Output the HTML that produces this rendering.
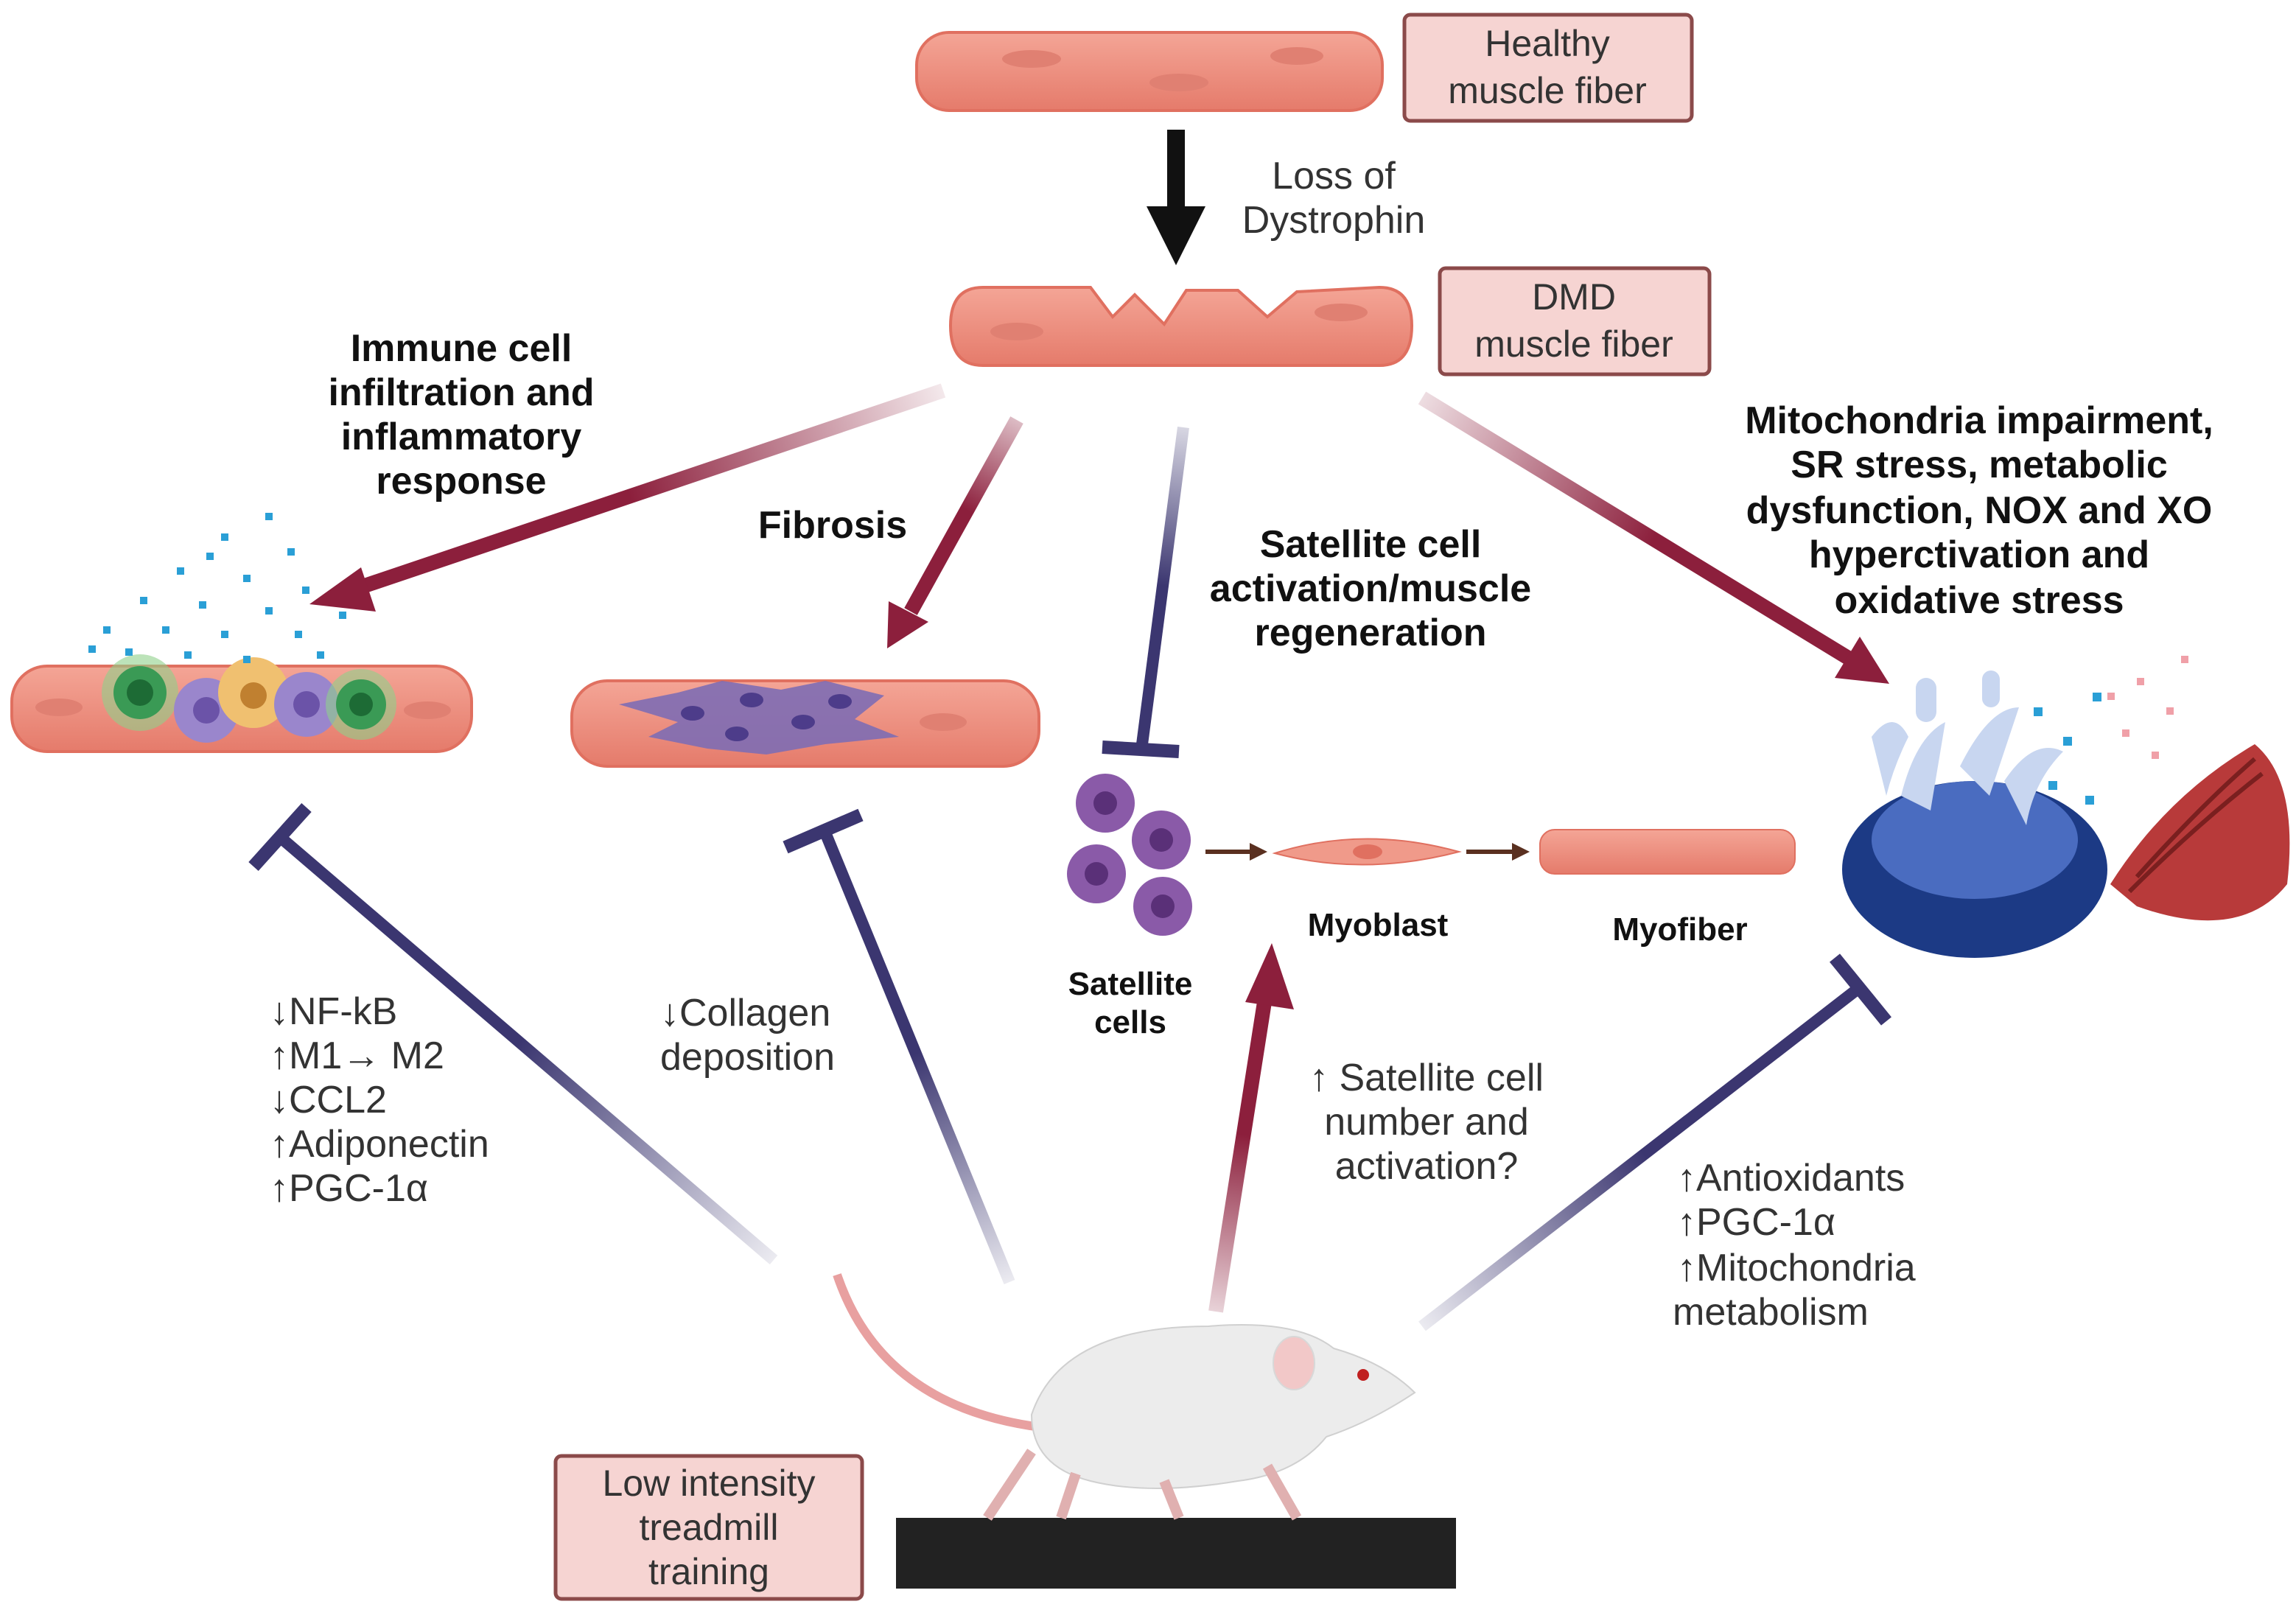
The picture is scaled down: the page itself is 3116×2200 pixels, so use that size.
<!DOCTYPE html>
<html><head><meta charset="utf-8"><style>
html,body{margin:0;padding:0;background:#fff}
svg{display:block}
text{font-family:"Liberation Sans",sans-serif}
</style></head><body>
<svg width="3116" height="2200" viewBox="0 0 1558 1100" xmlns="http://www.w3.org/2000/svg">
<defs>
<linearGradient id="fib" x1="0" y1="0" x2="0" y2="1"><stop offset="0" stop-color="#f4a596"/><stop offset="1" stop-color="#e57b6b"/></linearGradient>
<linearGradient id="g1" x1="640" y1="265" x2="215" y2="410" gradientUnits="userSpaceOnUse"><stop offset="0" stop-color="#8c1f3c" stop-opacity="0.1"/><stop offset="0.5" stop-color="#8c1f3c"/></linearGradient>
<linearGradient id="g2" x1="690" y1="285" x2="605" y2="438" gradientUnits="userSpaceOnUse"><stop offset="0" stop-color="#8c1f3c" stop-opacity="0.3"/><stop offset="0.4" stop-color="#8c1f3c"/></linearGradient>
<linearGradient id="g3" x1="803" y1="290" x2="775" y2="505" gradientUnits="userSpaceOnUse"><stop offset="0" stop-color="#3b3670" stop-opacity="0.2"/><stop offset="0.5" stop-color="#3b3670"/></linearGradient>
<linearGradient id="g4" x1="965" y1="270" x2="1280" y2="462" gradientUnits="userSpaceOnUse"><stop offset="0" stop-color="#8c1f3c" stop-opacity="0.15"/><stop offset="0.5" stop-color="#8c1f3c"/></linearGradient>
<linearGradient id="g5" x1="525" y1="855" x2="180" y2="560" gradientUnits="userSpaceOnUse"><stop offset="0" stop-color="#3b3670" stop-opacity="0.1"/><stop offset="0.5" stop-color="#3b3670"/></linearGradient>
<linearGradient id="g6" x1="685" y1="870" x2="558" y2="560" gradientUnits="userSpaceOnUse"><stop offset="0" stop-color="#3b3670" stop-opacity="0.1"/><stop offset="0.5" stop-color="#3b3670"/></linearGradient>
<linearGradient id="g7" x1="825" y1="890" x2="862" y2="650" gradientUnits="userSpaceOnUse"><stop offset="0" stop-color="#8c1f3c" stop-opacity="0.2"/><stop offset="0.5" stop-color="#8c1f3c"/></linearGradient>
<linearGradient id="g8" x1="965" y1="900" x2="1268" y2="668" gradientUnits="userSpaceOnUse"><stop offset="0" stop-color="#3b3670" stop-opacity="0.1"/><stop offset="0.5" stop-color="#3b3670"/></linearGradient>
</defs>

<!-- healthy fiber -->
<rect x="622" y="22" width="316" height="53" rx="22" fill="url(#fib)" stroke="#e07060" stroke-width="2"/>
<ellipse cx="700" cy="40" rx="20" ry="6" fill="#e08072"/><ellipse cx="800" cy="56" rx="20" ry="6" fill="#e08072"/><ellipse cx="880" cy="38" rx="18" ry="6" fill="#e08072"/>
<rect x="953" y="10" width="195" height="72" rx="4" fill="#f6d4d2" stroke="#8b4a4a" stroke-width="2.5"/>
<text x="1050" y="38" font-size="25" text-anchor="middle" fill="#333">Healthy</text>
<text x="1050" y="70" font-size="25" text-anchor="middle" fill="#333">muscle fiber</text>

<!-- black arrow -->
<rect x="792" y="88" width="12" height="60" fill="#111"/>
<polygon points="778,140 818,140 798,180" fill="#111"/>
<text x="905" y="128" font-size="26" text-anchor="middle" fill="#333">Loss of</text>
<text x="905" y="158" font-size="26" text-anchor="middle" fill="#333">Dystrophin</text>

<!-- DMD fiber -->
<path d="M667,195 L740,195 L755,215 L770,200 L790,220 L805,197 L840,197 L860,215 L880,198 L936,195 Q958,195 958,221 Q958,248 936,248 L667,248 Q645,248 645,221 Q645,195 667,195Z" fill="url(#fib)" stroke="#e07060" stroke-width="2"/>
<ellipse cx="690" cy="225" rx="18" ry="6" fill="#e08072"/><ellipse cx="910" cy="212" rx="18" ry="6" fill="#e08072"/>
<rect x="977" y="182" width="183" height="72" rx="4" fill="#f6d4d2" stroke="#8b4a4a" stroke-width="2.5"/>
<text x="1068" y="210" font-size="25" text-anchor="middle" fill="#333">DMD</text>
<text x="1068" y="242" font-size="25" text-anchor="middle" fill="#333">muscle fiber</text>

<!-- bold headings -->
<g font-size="26" font-weight="bold" text-anchor="middle" fill="#111">
<text x="313" y="245">Immune cell</text><text x="313" y="275">infiltration and</text><text x="313" y="305">inflammatory</text><text x="313" y="335">response</text>
<text x="565" y="365">Fibrosis</text>
<text x="930" y="378">Satellite cell</text><text x="930" y="408">activation/muscle</text><text x="930" y="438">regeneration</text>
<text x="1343" y="294">Mitochondria impairment,</text><text x="1343" y="324">SR stress, metabolic</text><text x="1343" y="355">dysfunction, NOX and XO</text><text x="1343" y="385">hyperctivation and</text><text x="1343" y="416">oxidative stress</text>
</g>

<!-- arrows from DMD -->
<line x1="640" y1="265" x2="240" y2="400" stroke="url(#g1)" stroke-width="10"/>
<polygon points="210,410 245,385 255,415" fill="#8c1f3c"/>
<line x1="690" y1="285" x2="618" y2="415" stroke="url(#g2)" stroke-width="10"/>
<polygon points="602,440 603,408 630,422" fill="#8c1f3c"/>
<line x1="803" y1="290" x2="775" y2="505" stroke="url(#g3)" stroke-width="8"/>
<line x1="748" y1="507" x2="800" y2="510" stroke="#3b3670" stroke-width="9"/>
<line x1="965" y1="270" x2="1255" y2="447" stroke="url(#g4)" stroke-width="10"/>
<polygon points="1282,464 1245,460 1262,432" fill="#8c1f3c"/>

<!-- immune fiber -->
<rect x="8" y="452" width="312" height="58" rx="24" fill="url(#fib)" stroke="#e07060" stroke-width="2"/>
<ellipse cx="40" cy="480" rx="16" ry="6" fill="#e08072"/><ellipse cx="290" cy="482" rx="16" ry="6" fill="#e08072"/>
<circle cx="95" cy="470" r="26" fill="#8fd08a" opacity="0.6"/><circle cx="95" cy="470" r="18" fill="#3a9a55"/><circle cx="95" cy="470" r="9" fill="#1d6b35"/>
<circle cx="140" cy="482" r="22" fill="#9a86cc"/><circle cx="140" cy="482" r="9" fill="#6b53a8"/>
<circle cx="172" cy="470" r="24" fill="#f0c070"/><circle cx="172" cy="472" r="9" fill="#c08030"/>
<circle cx="208" cy="478" r="22" fill="#9a86cc"/><circle cx="208" cy="478" r="9" fill="#6b53a8"/>
<circle cx="245" cy="478" r="24" fill="#8fd08a" opacity="0.6"/><circle cx="245" cy="478" r="17" fill="#3a9a55"/><circle cx="245" cy="478" r="8" fill="#1d6b35"/>
<g fill="#2a9fd6">
<rect x="180" y="348" width="5" height="5"/><rect x="150" y="362" width="5" height="5"/><rect x="195" y="372" width="5" height="5"/><rect x="120" y="385" width="5" height="5"/><rect x="165" y="390" width="5" height="5"/><rect x="205" y="398" width="5" height="5"/><rect x="95" y="405" width="5" height="5"/><rect x="135" y="408" width="5" height="5"/><rect x="180" y="412" width="5" height="5"/><rect x="70" y="425" width="5" height="5"/><rect x="110" y="425" width="5" height="5"/><rect x="150" y="428" width="5" height="5"/><rect x="200" y="428" width="5" height="5"/><rect x="85" y="440" width="5" height="5"/><rect x="125" y="442" width="5" height="5"/><rect x="165" y="445" width="5" height="5"/><rect x="215" y="442" width="5" height="5"/><rect x="60" y="438" width="5" height="5"/><rect x="230" y="415" width="5" height="5"/><rect x="140" y="375" width="5" height="5"/>
</g>

<!-- fibrosis fiber -->
<rect x="388" y="462" width="317" height="58" rx="24" fill="url(#fib)" stroke="#e07060" stroke-width="2"/>
<ellipse cx="640" cy="490" rx="16" ry="6" fill="#e08072"/>
<path d="M420,478 L460,470 L490,462 L530,468 L560,462 L600,472 L580,488 L610,500 L560,505 L520,512 L480,508 L440,500 L460,490Z" fill="#7e6db4" opacity="0.9"/>
<g fill="#4d3c8a"><ellipse cx="470" cy="484" rx="8" ry="5"/><ellipse cx="510" cy="475" rx="8" ry="5"/><ellipse cx="545" cy="490" rx="8" ry="5"/><ellipse cx="500" cy="498" rx="8" ry="5"/><ellipse cx="570" cy="476" rx="8" ry="5"/></g>

<!-- satellite cells -->
<g fill="#8a5aa8"><circle cx="750" cy="545" r="20"/><circle cx="788" cy="570" r="20"/><circle cx="744" cy="593" r="20"/><circle cx="789" cy="615" r="20"/></g>
<g fill="#5a3078"><circle cx="750" cy="545" r="8"/><circle cx="788" cy="570" r="8"/><circle cx="744" cy="593" r="8"/><circle cx="789" cy="615" r="8"/></g>
<line x1="818" y1="578" x2="850" y2="578" stroke="#5a3020" stroke-width="3"/><polygon points="860,578 848,572 848,584" fill="#5a3020"/>
<path d="M865,579 Q925,560 990,578 Q925,595 865,579Z" fill="#f09a8a" stroke="#e07060"/>
<ellipse cx="928" cy="578" rx="10" ry="5" fill="#e07060"/>
<line x1="995" y1="578" x2="1028" y2="578" stroke="#5a3020" stroke-width="3"/><polygon points="1038,578 1026,572 1026,584" fill="#5a3020"/>
<rect x="1045" y="563" width="173" height="30" rx="10" fill="url(#fib)" stroke="#e07060"/>
<g font-size="22" font-weight="bold" text-anchor="middle" fill="#111">
<text x="767" y="675">Satellite</text><text x="767" y="701">cells</text>
<text x="935" y="635">Myoblast</text><text x="1140" y="638">Myofiber</text>
</g>

<!-- mitochondria -->
<path d="M1432,600 Q1470,540 1530,505 Q1560,530 1552,600 Q1520,640 1450,615Z" fill="#b83a3a"/>
<path d="M1445,605 Q1490,560 1535,525 M1450,595 Q1495,545 1530,515" stroke="#7a1f1f" stroke-width="3" fill="none"/>
<ellipse cx="1340" cy="590" rx="90" ry="60" fill="#1c3a85"/>
<ellipse cx="1340" cy="570" rx="70" ry="40" fill="#4a6cc0"/>
<g fill="#c8d6f0"><path d="M1290,540 q10,-40 30,-50 q-5,30 -10,60z"/><path d="M1330,520 q20,-40 40,-40 q-10,30 -20,60z"/><path d="M1360,530 q20,-30 40,-20 q-20,20 -25,50z"/><path d="M1270,500 q15,-20 25,0 q-10,20 -15,40z"/><rect x="1300" y="460" width="14" height="30" rx="7"/><rect x="1345" y="455" width="12" height="25" rx="6"/></g>
<g fill="#2a9fd6"><rect x="1380" y="480" width="6" height="6"/><rect x="1400" y="500" width="6" height="6"/><rect x="1420" y="470" width="6" height="6"/><rect x="1390" y="530" width="6" height="6"/><rect x="1415" y="540" width="6" height="6"/></g>
<g fill="#f0a0a8"><rect x="1450" y="460" width="5" height="5"/><rect x="1470" y="480" width="5" height="5"/><rect x="1440" y="495" width="5" height="5"/><rect x="1480" y="445" width="5" height="5"/><rect x="1460" y="510" width="5" height="5"/><rect x="1430" y="470" width="5" height="5"/></g>

<!-- inhibitors from mouse -->
<line x1="525" y1="855" x2="190" y2="568" stroke="url(#g5)" stroke-width="8"/>
<line x1="172" y1="588" x2="208" y2="548" stroke="#3b3670" stroke-width="9"/>
<line x1="685" y1="870" x2="560" y2="565" stroke="url(#g6)" stroke-width="8"/>
<line x1="533" y1="575" x2="584" y2="553" stroke="#3b3670" stroke-width="9"/>
<line x1="825" y1="890" x2="858" y2="680" stroke="url(#g7)" stroke-width="10"/>
<polygon points="863,640 878,685 845,680" fill="#8c1f3c"/>
<line x1="965" y1="900" x2="1262" y2="670" stroke="url(#g8)" stroke-width="8"/>
<line x1="1245" y1="650" x2="1280" y2="693" stroke="#3b3670" stroke-width="9"/>

<g font-size="26" fill="#333">
<text x="183" y="695">↓NF-kB</text><text x="183" y="725">↑M1→ M2</text><text x="183" y="755">↓CCL2</text><text x="183" y="785">↑Adiponectin</text><text x="183" y="815">↑PGC-1α</text>
<text x="448" y="696">↓Collagen</text><text x="448" y="726">deposition</text>
<text x="968" y="740" text-anchor="middle">↑ Satellite cell</text><text x="968" y="770" text-anchor="middle">number and</text><text x="968" y="800" text-anchor="middle">activation?</text>
<text x="1138" y="808">↑Antioxidants</text><text x="1138" y="838">↑PGC-1α</text><text x="1138" y="869">↑Mitochondria</text><text x="1135" y="899">metabolism</text>
</g>

<!-- mouse -->
<path d="M568,865 Q600,960 720,970" stroke="#e8a0a0" stroke-width="6" fill="none"/>
<rect x="608" y="1030" width="380" height="48" fill="#222"/>
<path d="M700,960 Q720,900 820,900 Q880,895 905,915 Q940,925 960,945 Q930,965 900,975 Q880,1000 840,1005 Q780,1015 740,1005 Q700,995 700,960Z" fill="#ececec" stroke="#d0d0d0"/>
<ellipse cx="878" cy="925" rx="14" ry="18" fill="#f2c8c8" stroke="#d8d8d8"/>
<circle cx="925" cy="933" r="4" fill="#c02020"/>
<g stroke="#e0b0b0" stroke-width="7" fill="none"><path d="M730,1000 L720,1030"/><path d="M790,1005 L800,1030"/><path d="M860,995 L880,1030"/><path d="M700,985 L670,1030"/></g>
<rect x="377" y="988" width="208" height="97" rx="4" fill="#f6d4d2" stroke="#8b4a4a" stroke-width="2.5"/>
<text x="481" y="1015" font-size="25" text-anchor="middle" fill="#333">Low intensity</text>
<text x="481" y="1045" font-size="25" text-anchor="middle" fill="#333">treadmill</text>
<text x="481" y="1075" font-size="25" text-anchor="middle" fill="#333">training</text>
</svg>
</body></html>
